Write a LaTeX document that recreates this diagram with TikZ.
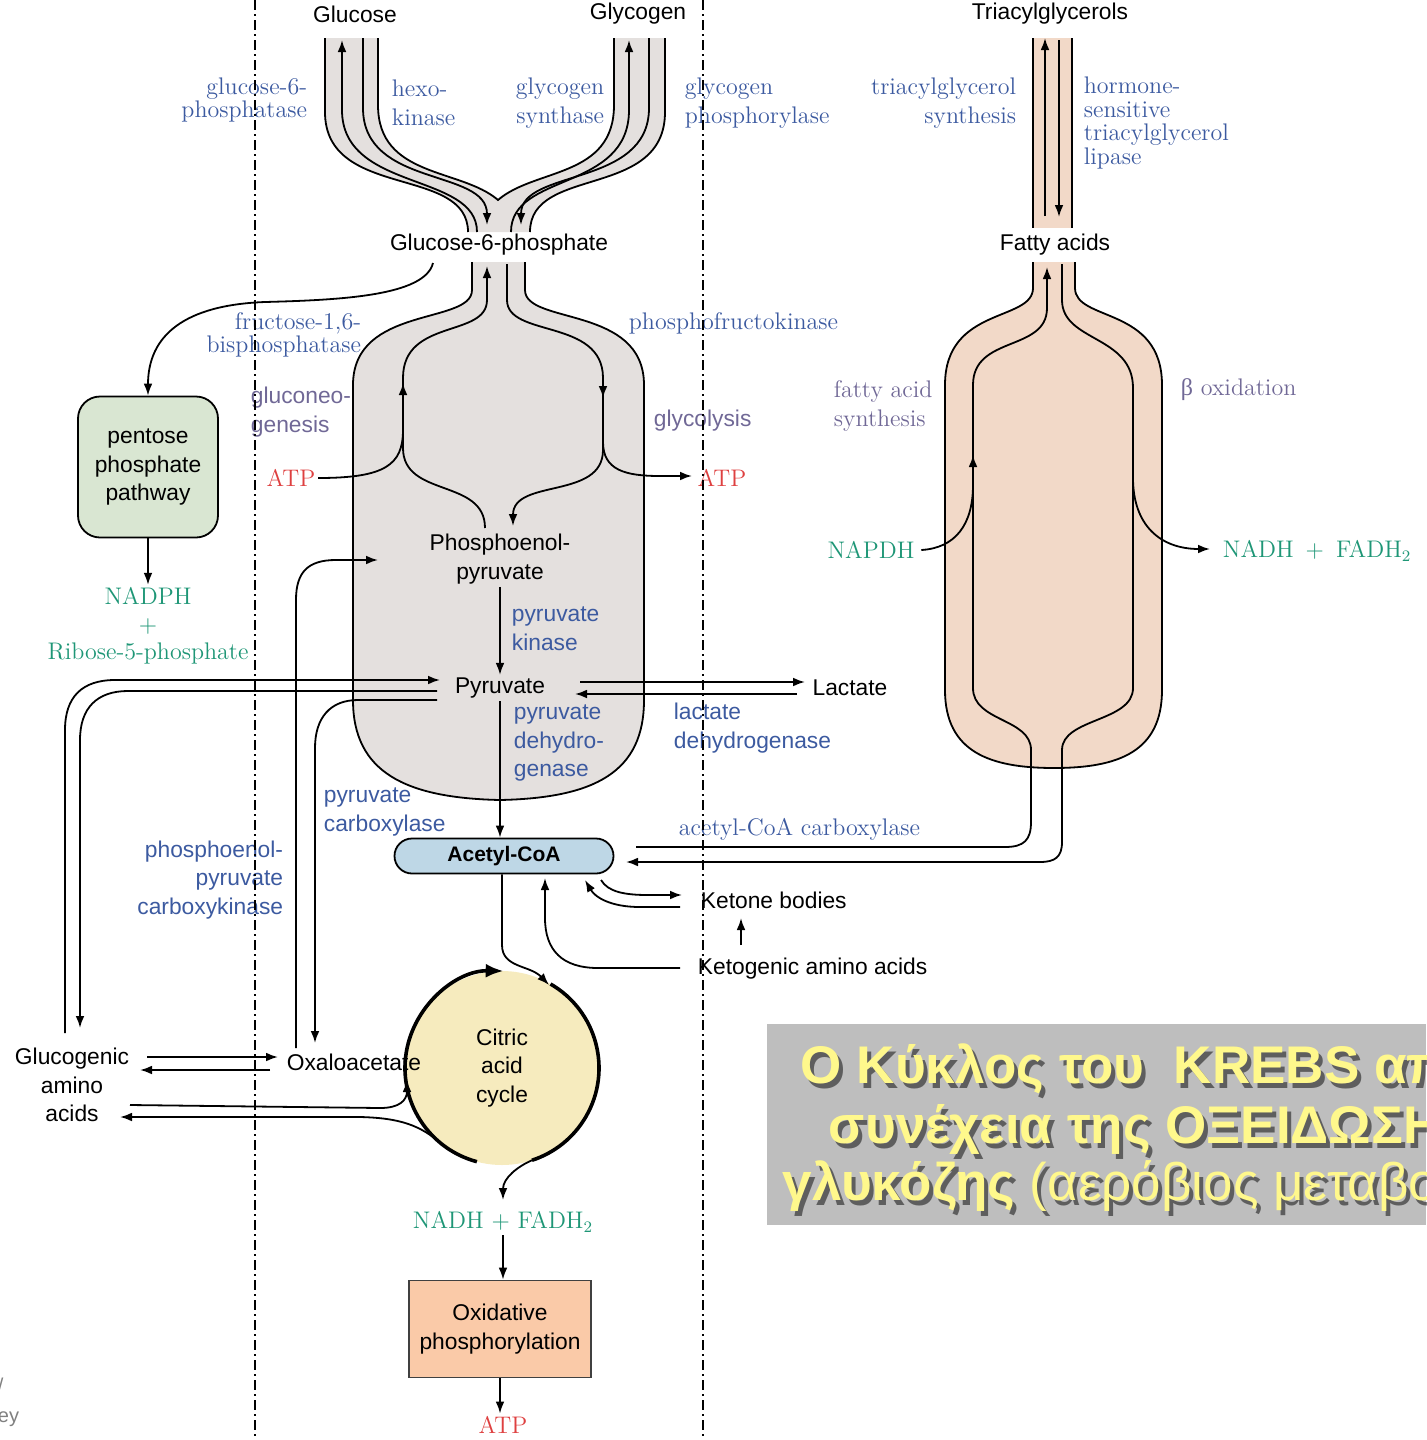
\documentclass[tikz,border=0pt]{standalone}
\usepackage{fontspec}
\setsansfont{Liberation Sans}
\newfontfamily\titlefont{Liberation Sans}
\newfontfamily\grkfont{Liberation Serif}
\usetikzlibrary{calc,positioning,arrows.meta}

\definecolor{enzblue}{RGB}{60,90,160}
\definecolor{pathlil}{RGB}{112,104,150}
\definecolor{nucgreen}{RGB}{30,150,118}
\definecolor{atpred}{RGB}{222,64,64}
\definecolor{tubegray}{RGB}{228,224,222}
\definecolor{tubetan}{RGB}{242,217,200}
\definecolor{cycyellow}{RGB}{246,235,190}
\definecolor{acoablue}{RGB}{190,215,230}
\definecolor{oxpeach}{RGB}{250,202,168}
\definecolor{pppgreen}{RGB}{217,230,210}
\definecolor{titlegray}{RGB}{190,190,190}
\definecolor{titleyel}{RGB}{255,248,140}

\tikzset{
  metab/.style={font=\sffamily\fontsize{11.4}{14.3}\selectfont,align=center,inner sep=1pt},
  enzsans/.style={metab,text=enzblue},
  enzser/.style={font=\fontsize{12}{11.8}\selectfont,text=enzblue,inner sep=1pt},
  enzwide/.style={font=\fontsize{12}{14.5}\selectfont,text=enzblue,inner sep=1pt},
  pwaysans/.style={metab,text=pathlil},
  pwayser/.style={font=\fontsize{12}{14.5}\selectfont,text=pathlil,inner sep=1pt},
  cofac/.style={font=\fontsize{12}{13.7}\selectfont,text=nucgreen,align=center,inner sep=1pt},
  atp/.style={font=\fontsize{12}{14}\selectfont,text=atpred,inner sep=1pt},
  cycline/.style={line width=1.8pt},
  divider/.style={line width=0.8pt,dash pattern=on 5pt off 2pt on 1pt off 2pt},
  banner/.style={font=\titlefont\bfseries\fontsize{26.5}{30}\selectfont,text=titleyel,anchor=base west,inner sep=0pt},
  bannershade/.style={banner,text=black,text opacity=0.5}
}

\begin{document}
\begin{tikzpicture}[x=0.5pt,y=-0.5pt,line width=0.9pt,>={Latex[length=6pt,width=4.4pt]}]
\useasboundingbox (0,0) rectangle (1426,1440);

% glucose / glycogen tube
\fill[tubegray] (325,38) -- (325,112) .. controls (325,200) and (468,165) .. (468,232)
  -- (530,232) .. controls (530,165) and (665,200) .. (665,112) -- (665,38)
  -- (614,38) -- (614,105) .. controls (614,178) and (535,168) .. (498,200)
  .. controls (461,168) and (378,178) .. (378,105) -- (378,38) -- cycle;
\draw (325,38) -- (325,112) .. controls (325,200) and (468,165) .. (468,232);
\draw (665,38) -- (665,112) .. controls (665,200) and (530,165) .. (530,232);
\draw (378,38) -- (378,105) .. controls (378,178) and (461,168) .. (498,200)
  .. controls (535,168) and (614,178) .. (614,105) -- (614,38);
\draw[->] (477,232) .. controls (477,172) and (342,192) .. (342,110) -- (342,40);
\draw[->] (363,38) -- (363,108) .. controls (363,188) and (487,168) .. (487,225);
\draw[->] (511,232) .. controls (511,172) and (629,192) .. (629,110) -- (629,40);
\draw[->] (649,38) -- (649,108) .. controls (649,188) and (521,168) .. (521,225);

% glycolysis bottle
\draw[fill=tubegray] (472,262) -- (472,290) .. controls (472,325) and (353,305) .. (353,385)
  -- (353,700) .. controls (353,772) and (405,798) .. (500,800)
  .. controls (595,798) and (644,772) .. (644,700) -- (644,385)
  .. controls (644,305) and (525,325) .. (525,290) -- (525,262);

% fatty acid bottle and tube
\draw[fill=tubetan] (1033,262) -- (1033,288) .. controls (1033,322) and (945,306) .. (945,385)
  -- (945,690) .. controls (945,752) and (990,768) .. (1054,768)
  .. controls (1118,768) and (1162,752) .. (1162,690) -- (1162,385)
  .. controls (1162,306) and (1075,322) .. (1075,288) -- (1075,262);
\fill[tubetan] (1033,38) rectangle (1072,228);
\draw (1033,38) -- (1033,228) (1072,38) -- (1072,228);
\draw[->] (1045,216) -- (1045,38);
\draw[->] (1059,40) -- (1059,217);

\node[metab] (glc) at (355,14) {Glucose};
\node[metab] (glyc) at (638,14) {Glycogen};
\node[metab] (tag) at (1050,14) {Triacylglycerols};
\node[metab] (g6p) at (499,245) {Glucose-6-phosphate};
\node[metab] (fa) at (1055,245) {Fatty acids};

\node[enzser, anchor=east, align=right] (g6pase) at (310,100) {glucose-6-\\phosphatase};
\node[enzwide, anchor=west, align=left] (hk) at (389,103) {hexo-\\kinase};
\node[enzwide, anchor=east, align=right] (gs) at (607,103) {glycogen\\synthase};
\node[enzwide, anchor=west, align=left] (gp) at (682,103) {glycogen\\phosphorylase};
\node[enzwide, anchor=east, align=right] (tgs) at (1019,103) {triacylglycerol\\synthesis};
\node[enzser, anchor=west, align=left] (hsl) at (1081,123) {hormone-\\sensitive\\triacylglycerol\\lipase};
\node[enzser, anchor=east, align=right] (fbp) at (364,335) {fructose-1,6-\\bisphosphatase};
\node[enzser, anchor=west] (pfk) at (626,323) {phosphofructokinase};

\node[pwaysans, anchor=west, align=left] (gng) at (248,412) {gluconeo-\\genesis};
\node[pwaysans, anchor=west] (glyco) at (651,421) {glycolysis};
\node[pwayser, anchor=west, align=left] (fas) at (831,406) {fatty acid\\synthesis};
\node[pwayser, anchor=west] (boxid) at (1178,390) {{\grkfont β} oxidation};
\node[atp] (atpin) at (291,478) {ATP};
\node[atp] (atpout) at (722,478) {ATP};
\node[cofac] (napdh) at (871,550) {NAPDH};
\node[cofac, anchor=west] (nadhfa) at (1220,551) {NADH\enspace+\enspace FADH$_2$};

\node[metab, draw, fill=pppgreen, rounded corners=11pt, minimum width=70pt, minimum height=70.5pt] (ppp) at (148,467) {pentose\\phosphate\\pathway};
\node[cofac] (nadph) at (148,626) {NADPH\\+\\Ribose-5-phosphate};

\node[metab] (pep) at (500,559) {Phosphoenol-\\pyruvate};
\node[enzsans, anchor=west, align=left] (pk) at (509,629) {pyruvate\\kinase};
\node[metab] (pyr) at (500,688) {Pyruvate};
\node[metab] (lac) at (850,688) {Lactate};
\node[enzsans, anchor=west, align=left] (ldh) at (671,728) {lactate\\dehydrogenase};
\node[enzsans, anchor=west, align=left] (pdh) at (511,743) {pyruvate\\dehydro-\\genase};
\node[enzsans, anchor=west, align=left] (pc) at (321,812) {pyruvate\\carboxylase};
\node[enzsans, anchor=east, align=right] (pepck) at (286,880) {phosphoenol-\\pyruvate\\carboxykinase};
\node[enzser, anchor=west] (acc) at (676,829) {acetyl-CoA carboxylase};
\node[metab, draw, fill=acoablue, rounded corners=8.75pt, minimum width=109.5pt, minimum height=17.5pt,
  font=\sffamily\bfseries\fontsize{10.5}{12}\selectfont] (acoa) at (504,856) {Acetyl-CoA};
\node[metab, anchor=west] (kb) at (698,900) {Ketone bodies};
\node[metab, anchor=west] (kaa) at (695,969) {Ketogenic amino acids};
\node[metab] (gaa) at (72,1085) {Glucogenic\\amino\\acids};
\node[metab, circle, fill=cycyellow, minimum size=97pt, inner sep=0pt] (tca) at (502,1068) {Citric\\acid\\cycle};
\node[metab] (oaa) at (354,1062) {Oxaloacetate};
\node[cofac] (nadh) at (503,1222) {NADH + FADH$_2$};
\node[metab, draw=black!75, fill=oxpeach, minimum width=91pt, minimum height=48.5pt] (oxp) at (500,1329) {Oxidative\\phosphorylation};
\node[atp] (atpox) at (503,1425) {ATP};

% glycolysis / gluconeogenesis loop
\draw[->] (485,528) .. controls (485,478) and (403,498) .. (403,448) -- (403,383);
\draw[->] (403,386) -- (403,378) .. controls (403,318) and (487,338) .. (487,300) -- (487,266);
\draw (atpin.east) .. controls (385,478) and (403,465) .. (403,430);
\draw[->] (507,264) -- (507,300) .. controls (507,338) and (603,318) .. (603,378) -- (603,398);
\draw[->] (603,394) -- (603,450) .. controls (603,500) and (513,478) .. (513,526);
\draw[->] (603,442) .. controls (603,470) and (625,476) .. (660,476) -- (692,476);
\draw[->] (433,263) .. controls (425,296) and (340,300) .. (265,302) .. controls (185,305) and (148,335) .. (ppp.north);
\draw[->] (ppp.south) -- (nadph.north);

\draw[->] (pep.south) -- (pyr.north);
\draw[->] (pyr.south) -- (pyr.south |- acoa.north);
\draw[->] (580,682) -- (805,682);
\draw[->] (797,694) -- (575,694);

% pyruvate and oxaloacetate side lines
\draw[->] (65,1033) -- (65,730) .. controls (65,697) and (82,680) .. (115,680) -- (440,680);
\draw[->] (437,691) -- (128,691) .. controls (97,691) and (80,708) .. (80,740) -- (80,1028);
\draw[->] (437,700) -- (358,700) .. controls (330,700) and (315,718) .. (315,748) -- (315,1043);
\draw[->] (296,1048) -- (296,600) .. controls (296,572) and (308,560) .. (336,560) -- (378,560);
\draw[->] (147,1057) -- (278,1057);
\draw[->] (270,1070) -- (140,1070);
\draw[->] (130,1105) -- (380,1108) .. controls (400,1108) and (407,1100) .. (407,1080);
\draw[->] (tca.center) ++(128:97) .. controls (420,1125) and (400,1118) .. (360,1117) -- (120,1117);

% citric acid cycle
\draw[cycline,-{Latex[length=9pt,width=7pt]}] (tca.center) ++(105:97) arc[start angle=105, end angle=271, radius=97];
\draw[cycline] (tca.center) ++(300:97) arc[start angle=300, end angle=432, radius=97];
\draw[->] (tca.center) ++(72:97) .. controls +(-14,6) and (503,1178) .. (503,1200);
\draw[->] (acoa.south) ++(-2,0) -- (502,945) .. controls (502,968) and (530,965) .. (549,985);
\draw[->] (nadh.south) -- (nadh.south |- oxp.north);
\draw[->] (oxp.south) -- (oxp.south |- atpox.north);

% acetyl-CoA connections
\draw[->] (680,968) -- (598,968) .. controls (562,968) and (545,950) .. (545,918) -- (545,878);
\draw[->] (741,945) -- (741,918);
\draw[->] (601,880) .. controls (608,892) and (625,895) .. (648,895) -- (682,895);
\draw[->] (680,907) -- (640,907) .. controls (610,907) and (595,897) .. (585,880);

% fatty acid synthesis / beta oxidation
\draw[->] (636,847) -- (1005,847) .. controls (1024,847) and (1031,840) .. (1031,822) -- (1031,750)
  .. controls (1031,718) and (973,722) .. (973,688) -- (973,455);
\draw[->] (973,458) -- (973,385) .. controls (973,335) and (1047,352) .. (1047,308) -- (1047,267);
\draw[->] (1062,264) -- (1062,300) .. controls (1062,342) and (1133,335) .. (1133,388) -- (1133,688)
  .. controls (1133,722) and (1062,718) .. (1062,750) -- (1062,842) .. controls (1062,857) and (1055,862) .. (1040,862) -- (626,862);
\draw (napdh.east) ++(4,0) .. controls (955,548) and (973,525) .. (973,485);
\draw[->] (1133,478) .. controls (1133,525) and (1160,549) .. (1210,549);

% title
\fill[titlegray] (767,1024) rectangle (1426,1225);
\begin{scope}
  \clip (767,1024) rectangle (1426,1225);
  \node[bannershade] at (804,1088) {Ο Κύκλος του\ \ KREBS απ};
  \node[banner] (ttl1) at (800,1083) {Ο Κύκλος του\ \ KREBS απ};
  \node[bannershade] at (832,1148) {συνέχεια της ΟΞΕΙΔΩΣΗ};
  \node[banner] (ttl2) at (828,1143) {συνέχεια της ΟΞΕΙΔΩΣΗ};
  \node[bannershade] at (786,1205) {γλυκόζης {\mdseries (αερόβιος μεταβο}};
  \node[banner] (ttl3) at (782,1200) {γλυκόζης {\mdseries (αερόβιος μεταβο}};
\end{scope}

\node[font=\sffamily\fontsize{10}{15}\selectfont, text=black!50, anchor=west, align=left, inner sep=0pt] (wm) at (-3,1402) {/\\ey};

\draw[divider] (255,0) -- (255,1440);
\draw[divider] (703,0) -- (703,1440);
\end{tikzpicture}
\end{document}
